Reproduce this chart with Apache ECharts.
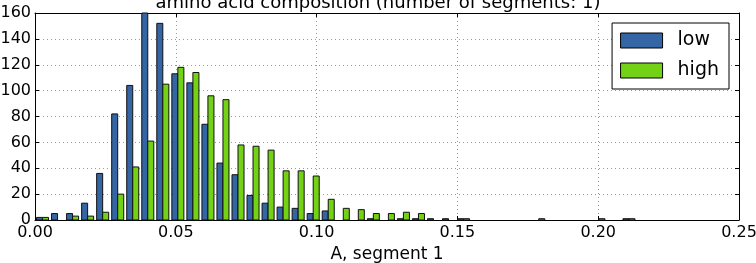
<!DOCTYPE html>
<html>
<head>
<meta charset="utf-8">
<script src="https://cdn.jsdelivr.net/npm/echarts@6/dist/echarts.min.js"></script>
<style>
html, body { margin: 0; padding: 0; background: #fff; }
#chart { width: 756px; height: 263px; }
</style>
</head>
<body>
<div id="chart"></div>
<script>
// histogram bins (left edge = binStart + i * binWidth)
var binStart = 0
var binWidth = 0.00534
var lowCounts = [2, 5, 5, 13, 36, 82, 104, 160, 152, 113,
                 106, 74, 44, 35, 19, 13, 10, 9, 5, 7,
                 0, 0, 1, 0, 1, 1, 1, 1, 1, 0,
                 0, 0, 0, 0, 0, 0, 0, 0, 0, 1]
var highCounts = [2, 0, 3, 3, 6, 20, 41, 61, 105, 118,
                  114, 96, 93, 58, 57, 54, 38, 38, 34, 16,
                  9, 8, 5, 5, 6, 5, 0, 0, 1, 0,
                  0, 0, 0, 1, 0, 0, 0, 1, 0, 1]
var xTicks = [0, 0.05, 0.10, 0.15, 0.20, 0.25]
var yTicks = [0, 20, 40, 60, 80, 100, 120, 140, 160]

var lowColor = '#3465a4'
var highColor = '#73d216'
var font = 'DejaVu Sans'

function toData(counts) {
    var out = []
    for (var i = 0; i < counts.length; i++) {
        if (counts[i] > 0) out.push([binStart + i * binWidth, counts[i]])
    }
    return out
}

function barRenderer(offset, color) {
    return function (params, api) {
        var x0 = api.value(0)
        var c = api.value(1)
        var p0 = api.coord([x0 + offset * binWidth, 0])
        var p1 = api.coord([x0 + (offset + 0.4) * binWidth, c])
        return {
            type: 'rect',
            shape: {x: p0[0], y: p1[1], width: p1[0] - p0[0], height: p0[1] - p1[1]},
            style: {fill: color, stroke: '#111', lineWidth: 1}
        }
    }
}

var gridLine = {show: true, lineStyle: {color: '#999', type: [1, 3], width: 1}}

var chart = echarts.init(document.getElementById('chart'))
var option = {
    animation: false,
    title: {
        text: 'amino acid composition (number of segments: 1)',
        left: 'center',
        top: -11,
        textStyle: {fontFamily: font, fontSize: 18, fontWeight: 'normal', color: '#000'}
    },
    legend: {
        orient: 'vertical',
        right: 27,
        top: 23,
        padding: [8, 10, 9, 8],
        itemWidth: 42,
        itemHeight: 15,
        itemGap: 11,
        backgroundColor: '#fff',
        borderColor: '#000',
        borderWidth: 1,
        borderRadius: 0,
        textStyle: {fontFamily: font, fontSize: 19, color: '#000', padding: [0, 0, 0, 10]},
        data: [
            {name: 'low', icon: 'rect', itemStyle: {color: lowColor, borderColor: '#000', borderWidth: 1}},
            {name: 'high', icon: 'rect', itemStyle: {color: highColor, borderColor: '#000', borderWidth: 1}}
        ]
    },
    grid: {left: 35, right: 17, top: 13, bottom: 43, outerBoundsMode: 'none', containLabel: false},
    xAxis: [
        {
            type: 'value',
            min: xTicks[0],
            max: xTicks[xTicks.length - 1],
            interval: 0.05,
            name: 'A, segment 1',
            nameLocation: 'middle',
            nameGap: 26,
            nameTextStyle: {fontFamily: font, fontSize: 17, color: '#000'},
            axisLine: {show: true, onZero: false, lineStyle: {color: '#000', width: 1}},
            axisTick: {show: true, inside: true, length: 4, lineStyle: {color: '#000'}},
            axisLabel: {
                fontFamily: font, fontSize: 16, color: '#000', margin: 5,
                formatter: function (v) { return v.toFixed(2) }
            },
            splitLine: gridLine
        },
        {
            type: 'value',
            position: 'top',
            min: xTicks[0],
            max: xTicks[xTicks.length - 1],
            interval: 0.05,
            axisLine: {show: true, onZero: false, lineStyle: {color: '#000', width: 1}},
            axisTick: {show: true, inside: true, length: 4, lineStyle: {color: '#000'}},
            axisLabel: {show: false},
            splitLine: {show: false}
        }
    ],
    yAxis: [
        {
            type: 'value',
            min: yTicks[0],
            max: yTicks[yTicks.length - 1],
            interval: 20,
            axisLine: {show: true, onZero: false, lineStyle: {color: '#000', width: 1}},
            axisTick: {show: true, inside: true, length: 4, lineStyle: {color: '#000'}},
            axisLabel: {fontFamily: font, fontSize: 16, color: '#000', margin: 4},
            splitLine: gridLine
        },
        {
            type: 'value',
            position: 'right',
            min: yTicks[0],
            max: yTicks[yTicks.length - 1],
            interval: 20,
            axisLine: {show: true, onZero: false, lineStyle: {color: '#000', width: 1}},
            axisTick: {show: true, inside: true, length: 4, lineStyle: {color: '#000'}},
            axisLabel: {show: false},
            splitLine: {show: false}
        }
    ],
    series: [
        {
            name: 'low',
            type: 'custom',
            xAxisIndex: 0,
            yAxisIndex: 0,
            itemStyle: {color: lowColor},
            encode: {x: 0, y: 1},
            renderItem: barRenderer(0.1, lowColor),
            data: toData(lowCounts)
        },
        {
            name: 'high',
            type: 'custom',
            xAxisIndex: 0,
            yAxisIndex: 0,
            itemStyle: {color: highColor},
            encode: {x: 0, y: 1},
            renderItem: barRenderer(0.5, highColor),
            data: toData(highCounts)
        }
    ]
};
chart.setOption(option);
</script>
</body>
</html>
